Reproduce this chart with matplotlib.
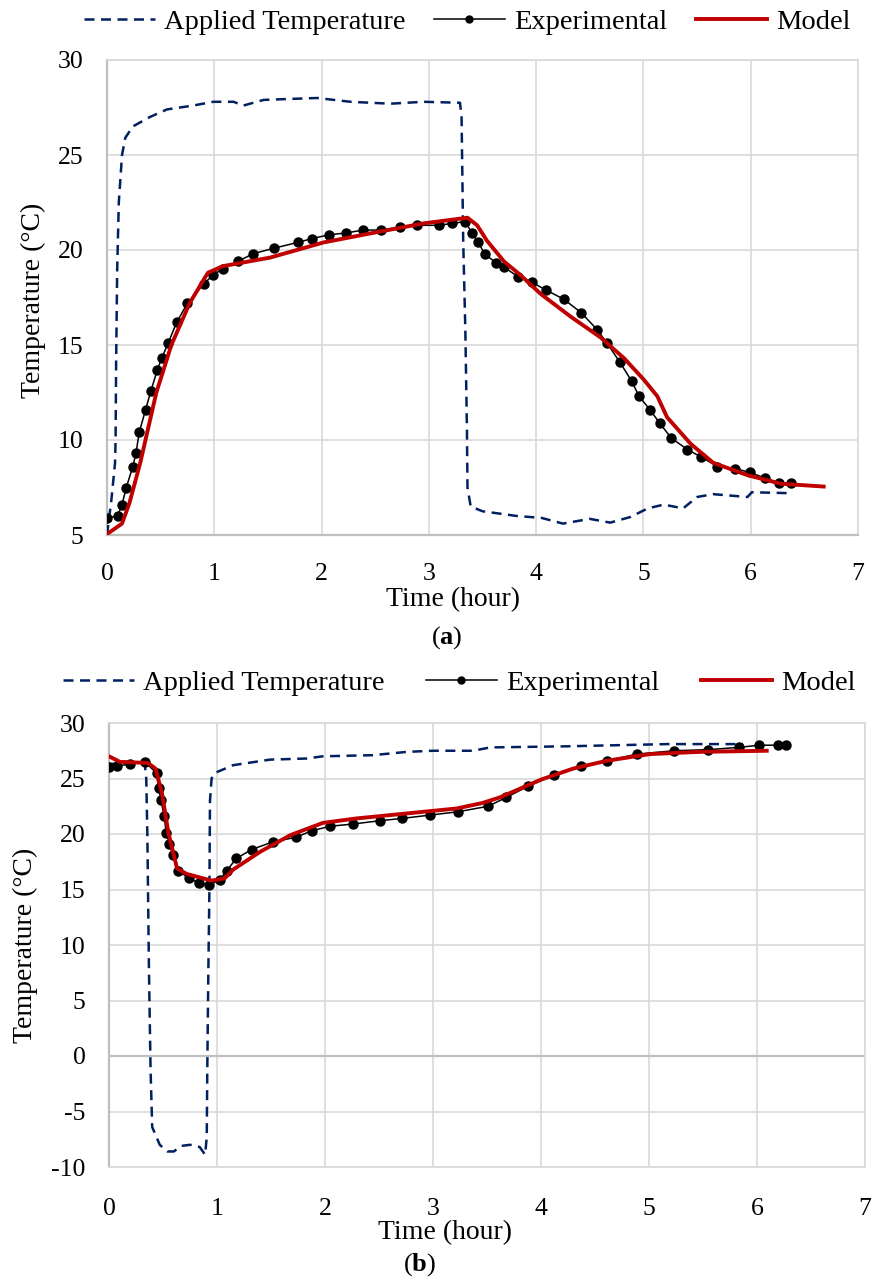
import matplotlib
matplotlib.use("Agg")
import matplotlib.pyplot as plt
from matplotlib.lines import Line2D

plt.rcParams['font.family'] = ['Liberation Serif', 'DejaVu Serif']
plt.rcParams['mathtext.fontset'] = 'custom'
plt.rcParams['mathtext.rm'] = 'Liberation Serif'
plt.rcParams['mathtext.bf'] = 'Liberation Serif:bold'
plt.rcParams['axes.unicode_minus'] = False

# ---------------- Panel (a) data ----------------
a_applied_t = [0, 0.04, 0.075, 0.08, 0.085, 0.095, 0.11, 0.14, 0.17, 0.24, 0.4, 0.56, 0.8, 0.99,
               1.18, 1.27, 1.46, 1.7, 1.96, 2.27, 2.64, 2.95, 3.29, 3.305, 3.32, 3.34, 3.355, 3.36,
               3.39, 3.5, 3.82, 4.05, 4.25, 4.5, 4.69, 4.88, 5.04, 5.19, 5.37, 5.5, 5.65, 5.97,
               6.01, 6.37]
a_applied_T = [5.0, 6.8, 8.8, 10.0, 14.0, 19.0, 22.5, 25.0, 25.9, 26.5, 27.0, 27.4, 27.6, 27.8,
               27.8, 27.6, 27.9, 27.95, 28.0, 27.8, 27.7, 27.8, 27.75, 27.0, 20.5, 15.8, 10.5, 7.5,
               6.5, 6.25, 6.0, 5.9, 5.6, 5.85, 5.65, 5.95, 6.4, 6.6, 6.4, 7.0, 7.15, 7.0,
               7.25, 7.2]

a_exp_t = [0, 0.10, 0.14, 0.18, 0.24, 0.27, 0.30, 0.36, 0.41, 0.47, 0.51, 0.57, 0.65, 0.75, 0.90,
           0.99, 1.08, 1.22, 1.36, 1.56, 1.78, 1.91, 2.07, 2.23, 2.39, 2.55, 2.73, 2.89, 3.09,
           3.22, 3.34, 3.40, 3.46, 3.52, 3.63, 3.70, 3.83, 3.96, 4.09, 4.26, 4.42, 4.57, 4.66,
           4.78, 4.89, 4.96, 5.06, 5.15, 5.26, 5.41, 5.54, 5.69, 5.85, 5.99, 6.13, 6.26, 6.38]
a_exp_T = [5.9, 6.0, 6.6, 7.5, 8.6, 9.3, 10.4, 11.6, 12.6, 13.7, 14.3, 15.1, 16.2, 17.2, 18.2,
           18.7, 19.0, 19.4, 19.8, 20.1, 20.4, 20.6, 20.8, 20.9, 21.05, 21.05, 21.2, 21.3, 21.3,
           21.4, 21.5, 20.9, 20.4, 19.8, 19.3, 19.1, 18.6, 18.3, 17.9, 17.4, 16.7, 15.8, 15.1,
           14.1, 13.1, 12.3, 11.6, 10.9, 10.1, 9.5, 9.1, 8.6, 8.5, 8.3, 8.0, 7.75, 7.75]

a_model_t = [0, 0.14, 0.21, 0.31, 0.46, 0.60, 0.77, 0.94, 1.08, 1.52, 2.02, 2.48, 2.95, 3.36,
             3.45, 3.54, 3.70, 3.85, 4.04, 4.32, 4.60, 4.82, 5.0, 5.13, 5.22, 5.44, 5.65, 5.97,
             6.28, 6.68]
a_model_T = [5.05, 5.6, 6.7, 8.8, 12.5, 15.0, 17.2, 18.8, 19.15, 19.6, 20.4, 20.9, 21.4, 21.7,
             21.3, 20.5, 19.4, 18.7, 17.7, 16.5, 15.4, 14.3, 13.2, 12.3, 11.2, 9.8, 8.8, 8.15,
             7.7, 7.55]

# ---------------- Panel (b) data ----------------
b_applied_t = [0, 0.2, 0.33, 0.345, 0.355, 0.36, 0.37, 0.385, 0.40, 0.47, 0.54, 0.60, 0.67, 0.75,
               0.84, 0.89, 0.905, 0.91, 0.92, 0.93, 0.935, 0.95, 0.98, 1.15, 1.49, 1.83, 1.98,
               2.44, 2.76, 3.0, 3.37, 3.53, 4.24, 5.17, 5.87]
b_applied_T = [26.3, 26.4, 26.4, 25.0, 20.0, 15.9, 7.75, -1.3, -6.4, -8.0, -8.6, -8.6, -8.1, -8.0,
               -8.2, -8.9, -7.3, -1.3, 7.75, 15.2, 23.0, 25.0, 25.5, 26.2, 26.7, 26.8, 27.0,
               27.1, 27.4, 27.5, 27.5, 27.8, 27.9, 28.1, 28.1]

b_exp_t = [0, 0.07, 0.19, 0.33, 0.44, 0.46, 0.48, 0.51, 0.53, 0.56, 0.59, 0.64, 0.74, 0.83, 0.93,
           1.03, 1.09, 1.18, 1.32, 1.52, 1.73, 1.88, 2.05, 2.26, 2.51, 2.71, 2.97, 3.23, 3.51,
           3.68, 3.88, 4.12, 4.37, 4.61, 4.89, 5.23, 5.55, 5.83, 6.02, 6.19, 6.27]
b_exp_T = [26.0, 26.1, 26.3, 26.5, 25.5, 24.1, 23.1, 21.6, 20.1, 19.1, 18.1, 16.7, 16.0, 15.6, 15.4,
           15.9, 16.7, 17.8, 18.6, 19.3, 19.7, 20.3, 20.7, 20.9, 21.2, 21.4, 21.7, 22.0, 22.5,
           23.3, 24.3, 25.3, 26.1, 26.6, 27.2, 27.5, 27.6, 27.8, 28.0, 28.0, 28.0]

b_model_t = [0, 0.1, 0.36, 0.43, 0.49, 0.55, 0.63, 0.72, 0.95, 1.07, 1.15, 1.40, 1.68, 1.98, 2.29,
             2.60, 2.91, 3.22, 3.46, 3.62, 4.0, 4.30, 4.61, 5.01, 5.47, 6.09]
b_model_T = [27.0, 26.5, 26.4, 25.9, 23.7, 20.1, 16.9, 16.4, 15.8, 16.0, 16.8, 18.4, 19.9, 21.0, 21.4,
             21.7, 22.0, 22.3, 22.8, 23.3, 24.9, 25.9, 26.6, 27.2, 27.4, 27.5]

x_ticks = [0, 1, 2, 3, 4, 5, 6, 7]
a_y_ticks = [5, 10, 15, 20, 25, 30]
b_y_ticks = [-10, -5, 0, 5, 10, 15, 20, 25, 30]
legend_labels = ['Applied Temperature', 'Experimental', 'Model']

NAVY = '#002060'
RED = '#c00000'
GRID = '#d9d9d9'
AXIS = '#bfbfbf'

W, H = 876, 1280
fig = plt.figure(figsize=(W / 100, H / 100), dpi=100)


def px_axes(l, t, r, b):
    return fig.add_axes([l / W, 1 - b / H, (r - l) / W, (b - t) / H])


def style(ax, yticks, ylim, xpad):
    ax.set_xlim(0, 7)
    ax.set_ylim(*ylim)
    ax.set_xticks(x_ticks)
    ax.set_yticks(yticks)
    ax.grid(True, color=GRID, lw=1.2, zorder=0)
    ax.set_axisbelow(True)
    for s in ['top', 'right']:
        ax.spines[s].set_color(GRID)
        ax.spines[s].set_linewidth(1.2)
    ax.spines['left'].set_color(AXIS)
    ax.spines['left'].set_linewidth(1.6)
    ax.tick_params(axis='both', length=0, labelsize=18.5)
    ax.tick_params(axis='x', pad=xpad)
    ax.tick_params(axis='y', pad=17)


def draw(ax, at, aT, et, eT, mt, mT):
    ax.plot(at, aT, color=NAVY, lw=1.8, ls=(0, (4, 2.6)), zorder=3)
    ax.plot(et, eT, color='black', lw=1.1, marker='o', ms=6.5, zorder=4)
    ax.plot(mt, mT, color=RED, lw=2.8, zorder=5)


# Panel (a)
ax1 = px_axes(107, 60, 858, 535)
style(ax1, a_y_ticks, (5, 30), 20)
ax1.spines['bottom'].set_color(AXIS)
ax1.spines['bottom'].set_linewidth(1.6)
draw(ax1, a_applied_t, a_applied_T, a_exp_t, a_exp_T, a_model_t, a_model_T)

# Panel (b)
ax2 = px_axes(109, 723, 865, 1167)
style(ax2, b_y_ticks, (-10, 30), 22)
ax2.spines['bottom'].set_color(GRID)
ax2.spines['bottom'].set_linewidth(1.2)
ax2.axhline(0, color=AXIS, lw=1.6, zorder=1)
draw(ax2, b_applied_t, b_applied_T, b_exp_t, b_exp_T, b_model_t, b_model_T)

handles = [Line2D([], [], color=NAVY, lw=1.8, ls=(0, (4, 2.6))),
           Line2D([], [], color='black', lw=1.1, marker='o', ms=5),
           Line2D([], [], color=RED, lw=2.8)]

for xc, yc, cs in [(467, 22, 1.0), (459, 683, 1.45)]:
    fig.legend(handles, legend_labels, loc='center', bbox_to_anchor=(xc / W, 1 - yc / H),
               ncol=3, frameon=False, fontsize=20.5, handlelength=2.5, handletextpad=0.32,
               columnspacing=cs, borderpad=0)

# Axis labels and captions
fig.text(453 / W, 1 - 600 / H, 'Time (hour)', ha='center', va='center', fontsize=20)
fig.text(445 / W, 1 - 1233 / H, 'Time (hour)', ha='center', va='center', fontsize=20)
fig.text(33 / W, 1 - 300 / H, 'Temperature (°C)', ha='center', va='center', rotation=90, fontsize=20)
fig.text(25 / W, 1 - 945 / H, 'Temperature (°C)', ha='center', va='center', rotation=90, fontsize=20)
fig.text(447 / W, 1 - 638 / H, r'($\mathbf{a}$)', ha='center', va='center', fontsize=19)
fig.text(420 / W, 1 - 1265 / H, r'($\mathbf{b}$)', ha='center', va='center', fontsize=19)

fig.savefig('out.png', dpi=100)
